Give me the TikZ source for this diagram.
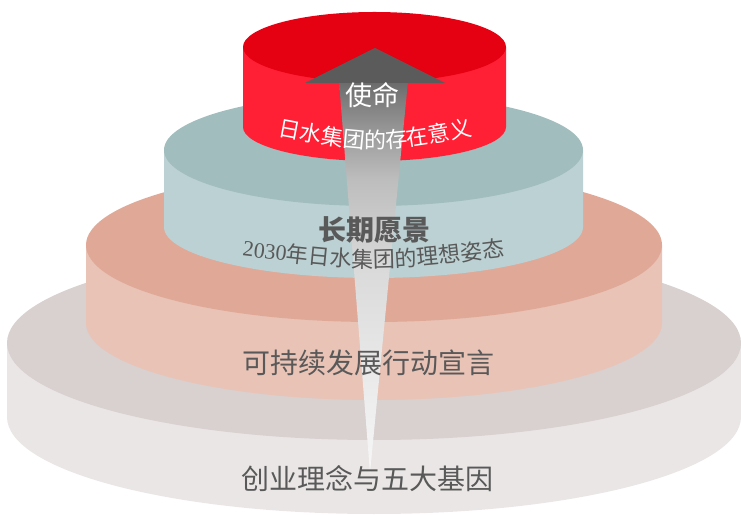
\documentclass[tikz,border=0pt]{standalone}
\usepackage{fontspec}
\setmainfont{Liberation Serif}
\newfontfamily\cjk{Noto Sans CJK SC}
\usetikzlibrary{decorations.text}
\definecolor{redtop}{HTML}{E50012}
\definecolor{redside}{HTML}{FF2035}
\definecolor{tealtop}{HTML}{A2BDBD}
\definecolor{tealside}{HTML}{BCD1D3}
\definecolor{salmtop}{HTML}{E0A897}
\definecolor{salmside}{HTML}{E9C3B6}
\definecolor{graytop}{HTML}{D9D0D0}
\definecolor{grayside}{HTML}{EAE6E6}
\definecolor{txt}{HTML}{595959}
\definecolor{headgray}{HTML}{5B5B5B}
\definecolor{sa}{HTML}{F7F7F7}
\definecolor{sb}{HTML}{EDEDED}
\definecolor{sc}{HTML}{DADADA}
\definecolor{sd}{HTML}{BDBDBD}
\definecolor{se}{HTML}{A3A3A3}
\definecolor{sf}{HTML}{7A7A7A}
\definecolor{sg}{HTML}{6A6A6A}
\pgfdeclareverticalshading{shaftshade}{100bp}{color(0bp)=(sa); color(25bp)=(sa); color(34.5bp)=(sb); color(51bp)=(sc); color(62.5bp)=(sd); color(67bp)=(se); color(73bp)=(sf); color(75bp)=(sg); color(100bp)=(sg)}
\newcommand\drawcyl[8]{%
  \fill[#8] (#1-#2,#3) -- (#1-#2,#4) arc[start angle=180,end angle=360,x radius=#2,y radius=#6] -- (#1+#2,#3) -- cycle;
  \fill[#7] (#1,#3) ellipse[x radius=#2, y radius=#5];
}
\tikzset{
  bigtxt/.style={font=\cjk\fontsize{28}{28}\selectfont, text=txt, inner sep=0pt},
  whitetxt/.style={font=\cjk\fontsize{27}{27}\selectfont, text=white, inner sep=0pt},
}
\begin{document}
\begin{tikzpicture}[x=1pt,y=1pt]
\useasboundingbox (0,0) rectangle (741,514);
% cylinders, bottom to top
\drawcyl{374}{367}{171}{97}{97}{97}{graytop}{grayside}
\drawcyl{374}{288}{269}{191}{77}{77}{salmtop}{salmside}
\drawcyl{373.5}{209.5}{364}{287}{56}{51}{tealtop}{tealside}
\drawcyl{374.5}{131.5}{467}{387}{35}{34}{redtop}{redside}
% arrow
\shade[shading=shaftshade] (339,433) -- (408,433) -- (370,41) -- cycle;
\fill[headgray] (305,431) -- (375,466) -- (445,431) -- cycle;
% texts
\node[whitetxt] (mission) at (372,419) {使命};
\path[decorate, decoration={text along path, text align=center, text color=white,
  text={|\cjk\fontsize{22}{22}\selectfont|日水集团的存在意义}}]
  (270,380) .. controls (375,360) .. (480,380);
\node[bigtxt, font=\cjk\bfseries\fontsize{28}{28}\selectfont] (vision) at (374,284) {长期愿景};
\path[decorate, decoration={text along path, text align=center, text color=txt,
  text={|\rmfamily\fontsize{22}{22}\selectfont|2030|\cjk\fontsize{22}{22}\selectfont|年日水集团的理想姿态}}]
  (228,260) .. controls (374,242) .. (519,260);
\node[bigtxt] (sdg) at (368.5,151.5) {可持续发展行动宣言};
\node[bigtxt] (dna) at (367.5,35) {创业理念与五大基因};
\end{tikzpicture}
\end{document}
